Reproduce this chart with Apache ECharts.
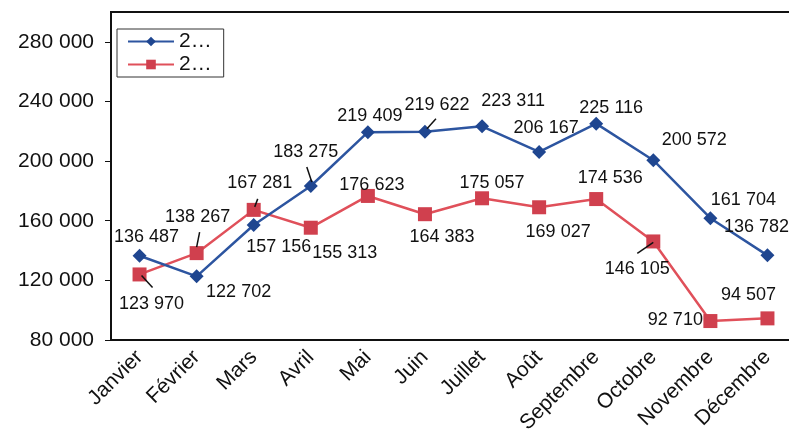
<!DOCTYPE html>
<html>
<head>
<meta charset="utf-8">
<script src="https://cdn.jsdelivr.net/npm/echarts@6/dist/echarts.min.js"></script>
<style>
html,body{margin:0;padding:0;background:#fff;overflow:hidden;}
#c{width:800px;height:447px;}
</style>
</head>
<body>
<div id="c"></div>
<script>
var categories = ['Janvier','Février','Mars','Avril','Mai','Juin','Juillet','Août','Septembre','Octobre','Novembre','Décembre'];
var seriesNames = ['2…','2… '];
var seriesA = [136487,122702,157156,183275,219409,219622,223311,206167,225116,200572,161704,136782];
var seriesB = [123970,138267,167281,155313,176623,164383,175057,169027,174536,146105,92710,94507];
var yTicks = [80000,120000,160000,200000,240000,280000];

// label layout (pixel offsets from each point), kept apart from the values
var offsetsA = [[7,-19],[42,16],[25,22],[-5,-34],[2,-16],[12,-27],[31,-25],[7,-24],[15,-16],[41,-20],[33,-18],[-11,-28]];
var offsetsB = [[12,30],[1,-36],[6,-27],[34,25],[4,-11],[17,23],[10,-15],[19,25],[14,-21],[-16,28],[-35,-1],[-19,-23]];
// leader lines: [seriesIndex, categoryIndex, dx1, dy1, dx2, dy2]
var leaders = [[0,3,-4,-19,1,-4],[0,5,11,-13,2,-3],[1,0,2,1,13,13],[1,1,3,-21,0,-6],[1,2,4,-11,1,-3],[1,9,-16,12,0,1]];

function fmt(v){ return String(v).replace(/\B(?=(\d{3})+(?!\d))/g,' '); }

function buildData(vals, offs){
  return vals.map(function(v,i){
    return {value:v, label:{offset:offs[i]}};
  });
}

var FONT = 'Liberation Sans, Arial, sans-serif';
var chart = echarts.init(document.getElementById('c'));
var labelBase = {
  show:true, position:'inside', align:'center', verticalAlign:'middle',
  fontFamily:FONT, fontSize:18, color:'#111',
  formatter:function(p){return fmt(p.value);}
};
chart.setOption({
  animation:false,
  grid:{left:111,width:685,top:12,bottom:107,show:true,borderColor:'#111',borderWidth:2,backgroundColor:'transparent'},
  legend:{
    left:117, top:29, orient:'vertical', itemWidth:46, itemHeight:12, itemGap:2,
    padding:[2,12,2,10], borderColor:'#333', borderWidth:1,
    textStyle:{fontFamily:FONT, fontSize:21, lineHeight:18, color:'#111'},
    formatter:function(){return '2…';},
    data:seriesNames
  },
  xAxis:{
    type:'category', data:categories, boundaryGap:true,
    axisLine:{lineStyle:{color:'#111',width:2}},
    axisTick:{lineStyle:{color:'#111',width:1},length:6},
    axisLabel:{rotate:45, margin:14, fontFamily:FONT, fontSize:21, color:'#111', interval:0}
  },
  yAxis:{
    type:'value', min:80000, max:300000, interval:40000,
    axisLine:{show:true,lineStyle:{color:'#111',width:2}},
    axisTick:{show:true,length:6,lineStyle:{color:'#111'},customValues:yTicks},
    splitLine:{show:false},
    axisLabel:{margin:17, fontFamily:FONT, fontSize:21, color:'#111', customValues:yTicks,
      formatter:function(v){return fmt(v);}}
  },
  series:[
    {name:seriesNames[0], type:'line', data:buildData(seriesA,offsetsA),
     symbol:'diamond', symbolSize:14, lineStyle:{color:'#2D55A0',width:2.5},
     itemStyle:{color:'#1F4690'}, label:labelBase, z:3},
    {name:seriesNames[1], type:'line', data:buildData(seriesB,offsetsB),
     symbol:'rect', symbolSize:14, lineStyle:{color:'#E0505A',width:2.5},
     itemStyle:{color:'#D0404E'}, label:labelBase, z:2}
  ]
});

var vals = [seriesA, seriesB];
var g = leaders.map(function(l){
  var p = chart.convertToPixel({seriesIndex:l[0]}, [l[1], vals[l[0]][l[1]]]);
  return {type:'line', shape:{x1:p[0]+l[2],y1:p[1]+l[3],x2:p[0]+l[4],y2:p[1]+l[5]},
          style:{stroke:'#111',lineWidth:1.5}, z:10};
});
chart.setOption({graphic:g});
</script>
</body>
</html>
